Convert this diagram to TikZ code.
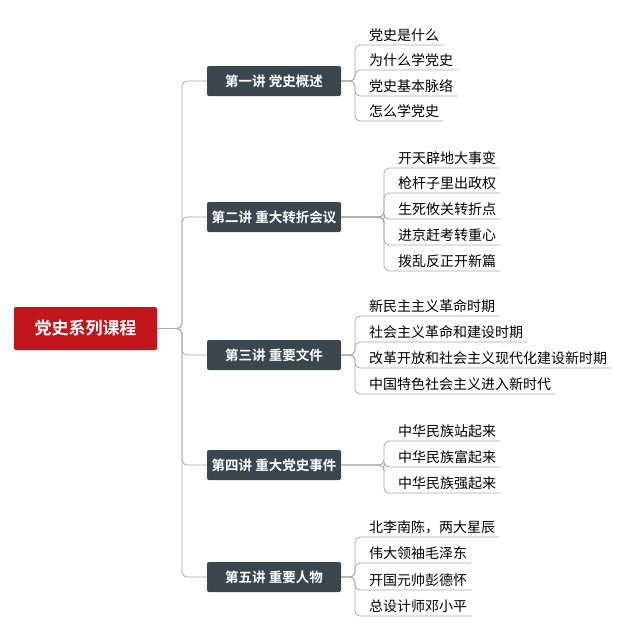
\documentclass[tikz,border=0pt]{standalone}
\usepackage{fontspec}
\setmainfont{Noto Sans CJK SC}[BoldFont={Noto Sans CJK SC Bold}]
\usetikzlibrary{positioning}
\definecolor{rootred}{HTML}{C1161C}
\definecolor{slate}{HTML}{3C464E}
\definecolor{linegray}{HTML}{A8A8A8}
\tikzset{
  root/.style={fill=rootred,text=white,font=\fontsize{17}{20}\selectfont\bfseries,
    minimum width=143pt,minimum height=43pt,rounded corners=2pt},
  topic/.style={fill=slate,text=white,font=\fontsize{13.5}{15}\selectfont\bfseries,
    minimum width=134pt,minimum height=30pt,rounded corners=2pt},
  leaf/.style={anchor=south west,inner xsep=4pt,inner ysep=3pt,xshift=10pt,
    font=\fontsize{14}{16}\selectfont},
  conn/.style={linegray,line width=0.8pt,rounded corners=5pt},
}
\begin{document}
\begin{tikzpicture}[x=1pt,y=-1pt]
  \useasboundingbox (0,0) rectangle (617,625);

  \node[root] (root) at (85.5,328.5) {党史系列课程};

  % topics
  \node[topic] (t1) at (274,81)  {第一讲 党史概述};
  \node[topic] (t2) at (274,217) {第二讲 重大转折会议};
  \node[topic] (t3) at (274,355) {第三讲 重要文件};
  \node[topic] (t4) at (274,465) {第四讲 重大党史事件};
  \node[topic] (t5) at (274,577) {第五讲 重要人物};
  \coordinate (trunk) at (182,328.5);
  \foreach \t in {t1,t2,t3,t4,t5}
    \draw[conn] (root.east) -- (trunk) |- (\t.west);

  % leaves
  \node[leaf] (a1) at (355,45)  {党史是什么};
  \node[leaf] (a2) at (355,70)  {为什么学党史};
  \node[leaf] (a3) at (355,96)  {党史基本脉络};
  \node[leaf] (a4) at (355,121) {怎么学党史};
  \coordinate (j1) at (355,81);
  \foreach \l in {a1,a2,a3,a4}
    \draw[conn] (t1.east) -- (j1) |- (\l.south east);

  \node[leaf] (b1) at (384,168) {开天辟地大事变};
  \node[leaf] (b2) at (384,193) {枪杆子里出政权};
  \node[leaf] (b3) at (384,219) {生死攸关转折点};
  \node[leaf] (b4) at (384,245) {进京赶考转重心};
  \node[leaf] (b5) at (384,271) {拨乱反正开新篇};
  \coordinate (j2) at (384,217);
  \foreach \l in {b1,b2,b3,b4,b5}
    \draw[conn] (t2.east) -- (j2) |- (\l.south east);

  \node[leaf] (c1) at (355,316) {新民主主义革命时期};
  \node[leaf] (c2) at (355,342) {社会主义革命和建设时期};
  \node[leaf] (c3) at (355,368) {改革开放和社会主义现代化建设新时期};
  \node[leaf] (c4) at (355,394) {中国特色社会主义进入新时代};
  \coordinate (j3) at (355,355);
  \foreach \l in {c1,c2,c3,c4}
    \draw[conn] (t3.east) -- (j3) |- (\l.south east);

  \node[leaf] (d1) at (384,441) {中华民族站起来};
  \node[leaf] (d2) at (384,467) {中华民族富起来};
  \node[leaf] (d3) at (384,493) {中华民族强起来};
  \coordinate (j4) at (384,465);
  \foreach \l in {d1,d2,d3}
    \draw[conn] (t4.east) -- (j4) |- (\l.south east);

  \node[leaf] (e1) at (355,537) {北李南陈，两大星辰};
  \node[leaf] (e2) at (355,563) {伟大领袖毛泽东};
  \node[leaf] (e3) at (355,590) {开国元帅彭德怀};
  \node[leaf] (e4) at (355,616) {总设计师邓小平};
  \coordinate (j5) at (355,577);
  \foreach \l in {e1,e2,e3,e4}
    \draw[conn] (t5.east) -- (j5) |- (\l.south east);
\end{tikzpicture}
\end{document}
